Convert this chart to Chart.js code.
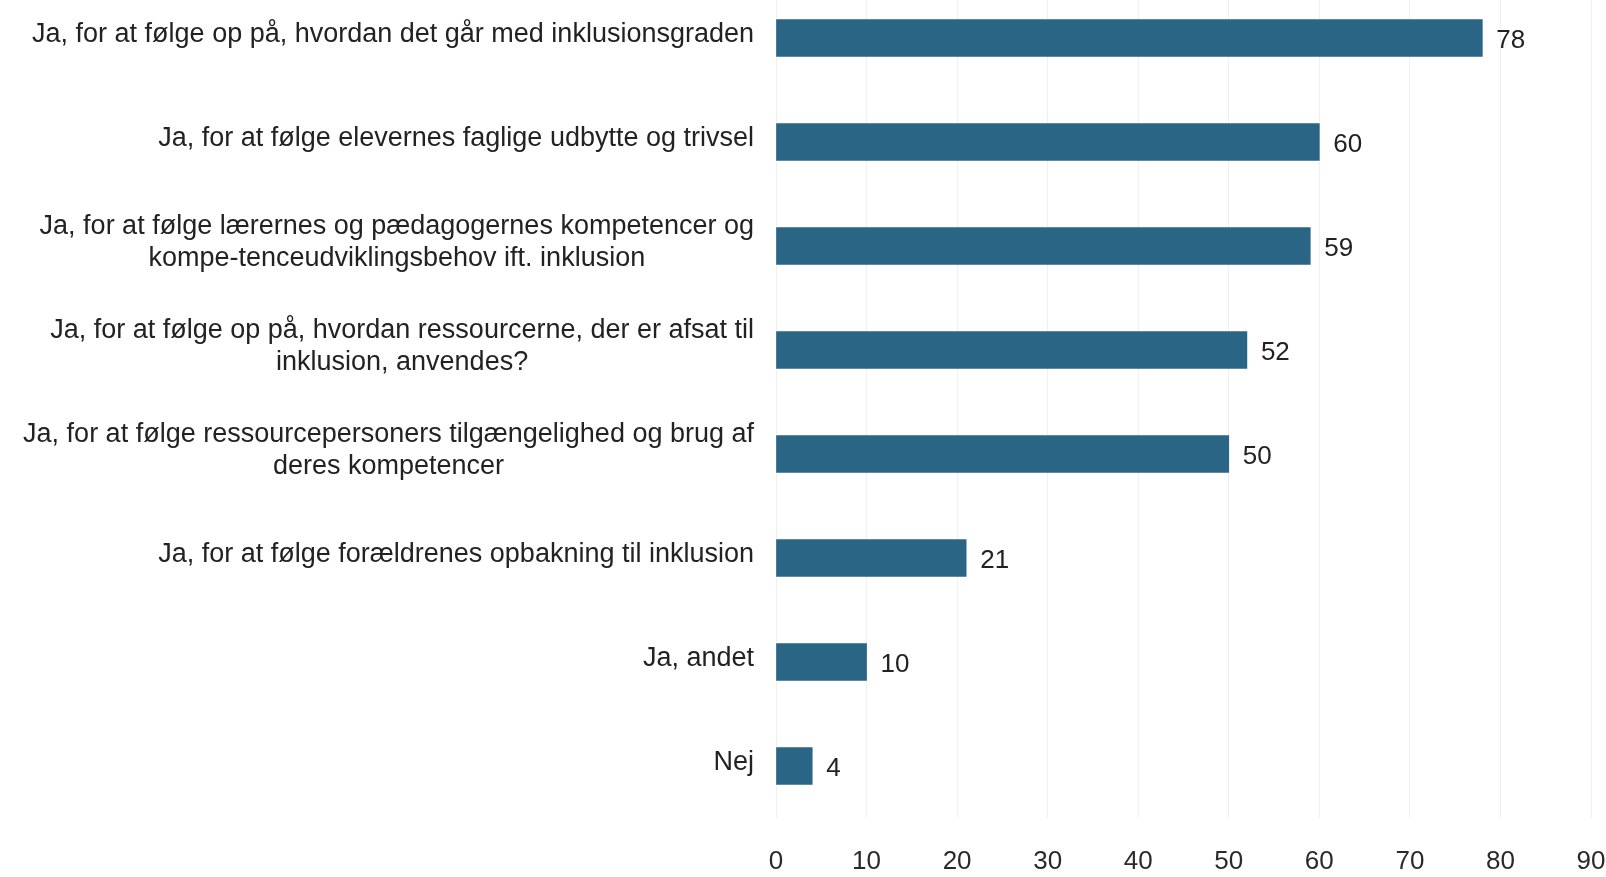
<!DOCTYPE html>
<html>
<head>
<meta charset="utf-8">
<script src="https://cdn.jsdelivr.net/npm/chart.js@4/dist/chart.umd.min.js"></script>
<style>
  html, body { margin: 0; padding: 0; background: #ffffff; overflow: hidden; width: 1606px; height: 877px; }
  #wrap { width: 1606px; height: 891px; position: absolute; left: 0; top: -14px; }
</style>
</head>
<body>
<div id="wrap"><canvas id="c"></canvas></div>
<script>
const categories = [
  "Ja, for at følge op på, hvordan det går med inklusionsgraden",
  ["Ja, for at følge elevernes faglige udbytte og trivsel"],
  ["Ja, for at følge lærernes og pædagogernes kompetencer og", "kompe-tenceudviklingsbehov ift. inklusion"],
  ["Ja, for at følge op på, hvordan ressourcerne, der er afsat til", "inklusion, anvendes?"],
  ["Ja, for at følge ressourcepersoners tilgængelighed og brug af", "deres kompetencer"],
  "Ja, for at følge forældrenes opbakning til inklusion",
  "Ja, andet",
  "Nej"
];
const values = [78, 60, 59, 52, 50, 21, 10, 4];
const xTicks = [0, 10, 20, 30, 40, 50, 60, 70, 80, 90];

const FONT = "'Liberation Sans', Arial, sans-serif";

// Category labels: block right-aligned at the axis, lines centred within the block
const categoryLabels = {
  id: 'categoryLabels',
  afterDraw(chart) {
    const ctx = chart.ctx;
    const yScale = chart.scales.y;
    const right = chart.chartArea.left - 22;
    const lineH = 32;
    ctx.save();
    ctx.font = "27px " + FONT;
    ctx.fillStyle = "#222222";
    ctx.textAlign = "center";
    ctx.textBaseline = "middle";
    categories.forEach((lab, i) => {
      const lines = Array.isArray(lab) ? lab : [lab];
      const w = Math.max(...lines.map(l => ctx.measureText(l).width));
      const cx = right - w / 2;
      const yc = yScale.getPixelForTick(i) - 3;
      const y0 = yc - (lines.length - 1) * lineH / 2;
      lines.forEach((l, k) => ctx.fillText(l, cx, y0 + k * lineH));
    });
    ctx.restore();
  }
};

const valueLabels = {
  id: 'valueLabels',
  afterDatasetsDraw(chart) {
    const ctx = chart.ctx;
    const meta = chart.getDatasetMeta(0);
    ctx.save();
    ctx.font = "26px " + FONT;
    ctx.fillStyle = "#222222";
    ctx.textAlign = "left";
    ctx.textBaseline = "middle";
    meta.data.forEach((bar, i) => {
      ctx.fillText(String(values[i]), bar.x + 14, bar.y + 3);
    });
    ctx.restore();
  }
};

new Chart(document.getElementById('c'), {
  type: 'bar',
  data: {
    labels: categories,
    datasets: [{
      data: values,
      backgroundColor: '#2b6585',
      borderWidth: 0,
      barThickness: 37
    }]
  },
  options: {
    indexAxis: 'y',
    responsive: true,
    maintainAspectRatio: false,
    animation: false,
    layout: { padding: { top: 0, right: 15, bottom: 0, left: 0 } },
    plugins: { legend: { display: false }, tooltip: { enabled: false } },
    scales: {
      x: {
        min: 0,
        max: 90,
        afterBuildTicks: (s) => { s.ticks = xTicks.map(v => ({ value: v })); },
        afterFit: (s) => { s.height = 59; s.paddingLeft = 0; s.paddingRight = 0; },
        grid: { color: '#f0f0f0', lineWidth: 1, drawTicks: false },
        border: { display: false },
        ticks: {
          padding: 28,
          color: '#2a2a2a',
          font: { family: FONT, size: 26 }
        }
      },
      y: {
        offset: true,
        afterFit: (s) => { s.width = 776; s.paddingTop = 0; s.paddingBottom = 0; },
        grid: { display: false, drawTicks: false },
        border: { display: false },
        ticks: { display: false }
      }
    }
  },
  plugins: [valueLabels, categoryLabels]
});
</script>
</body>
</html>
